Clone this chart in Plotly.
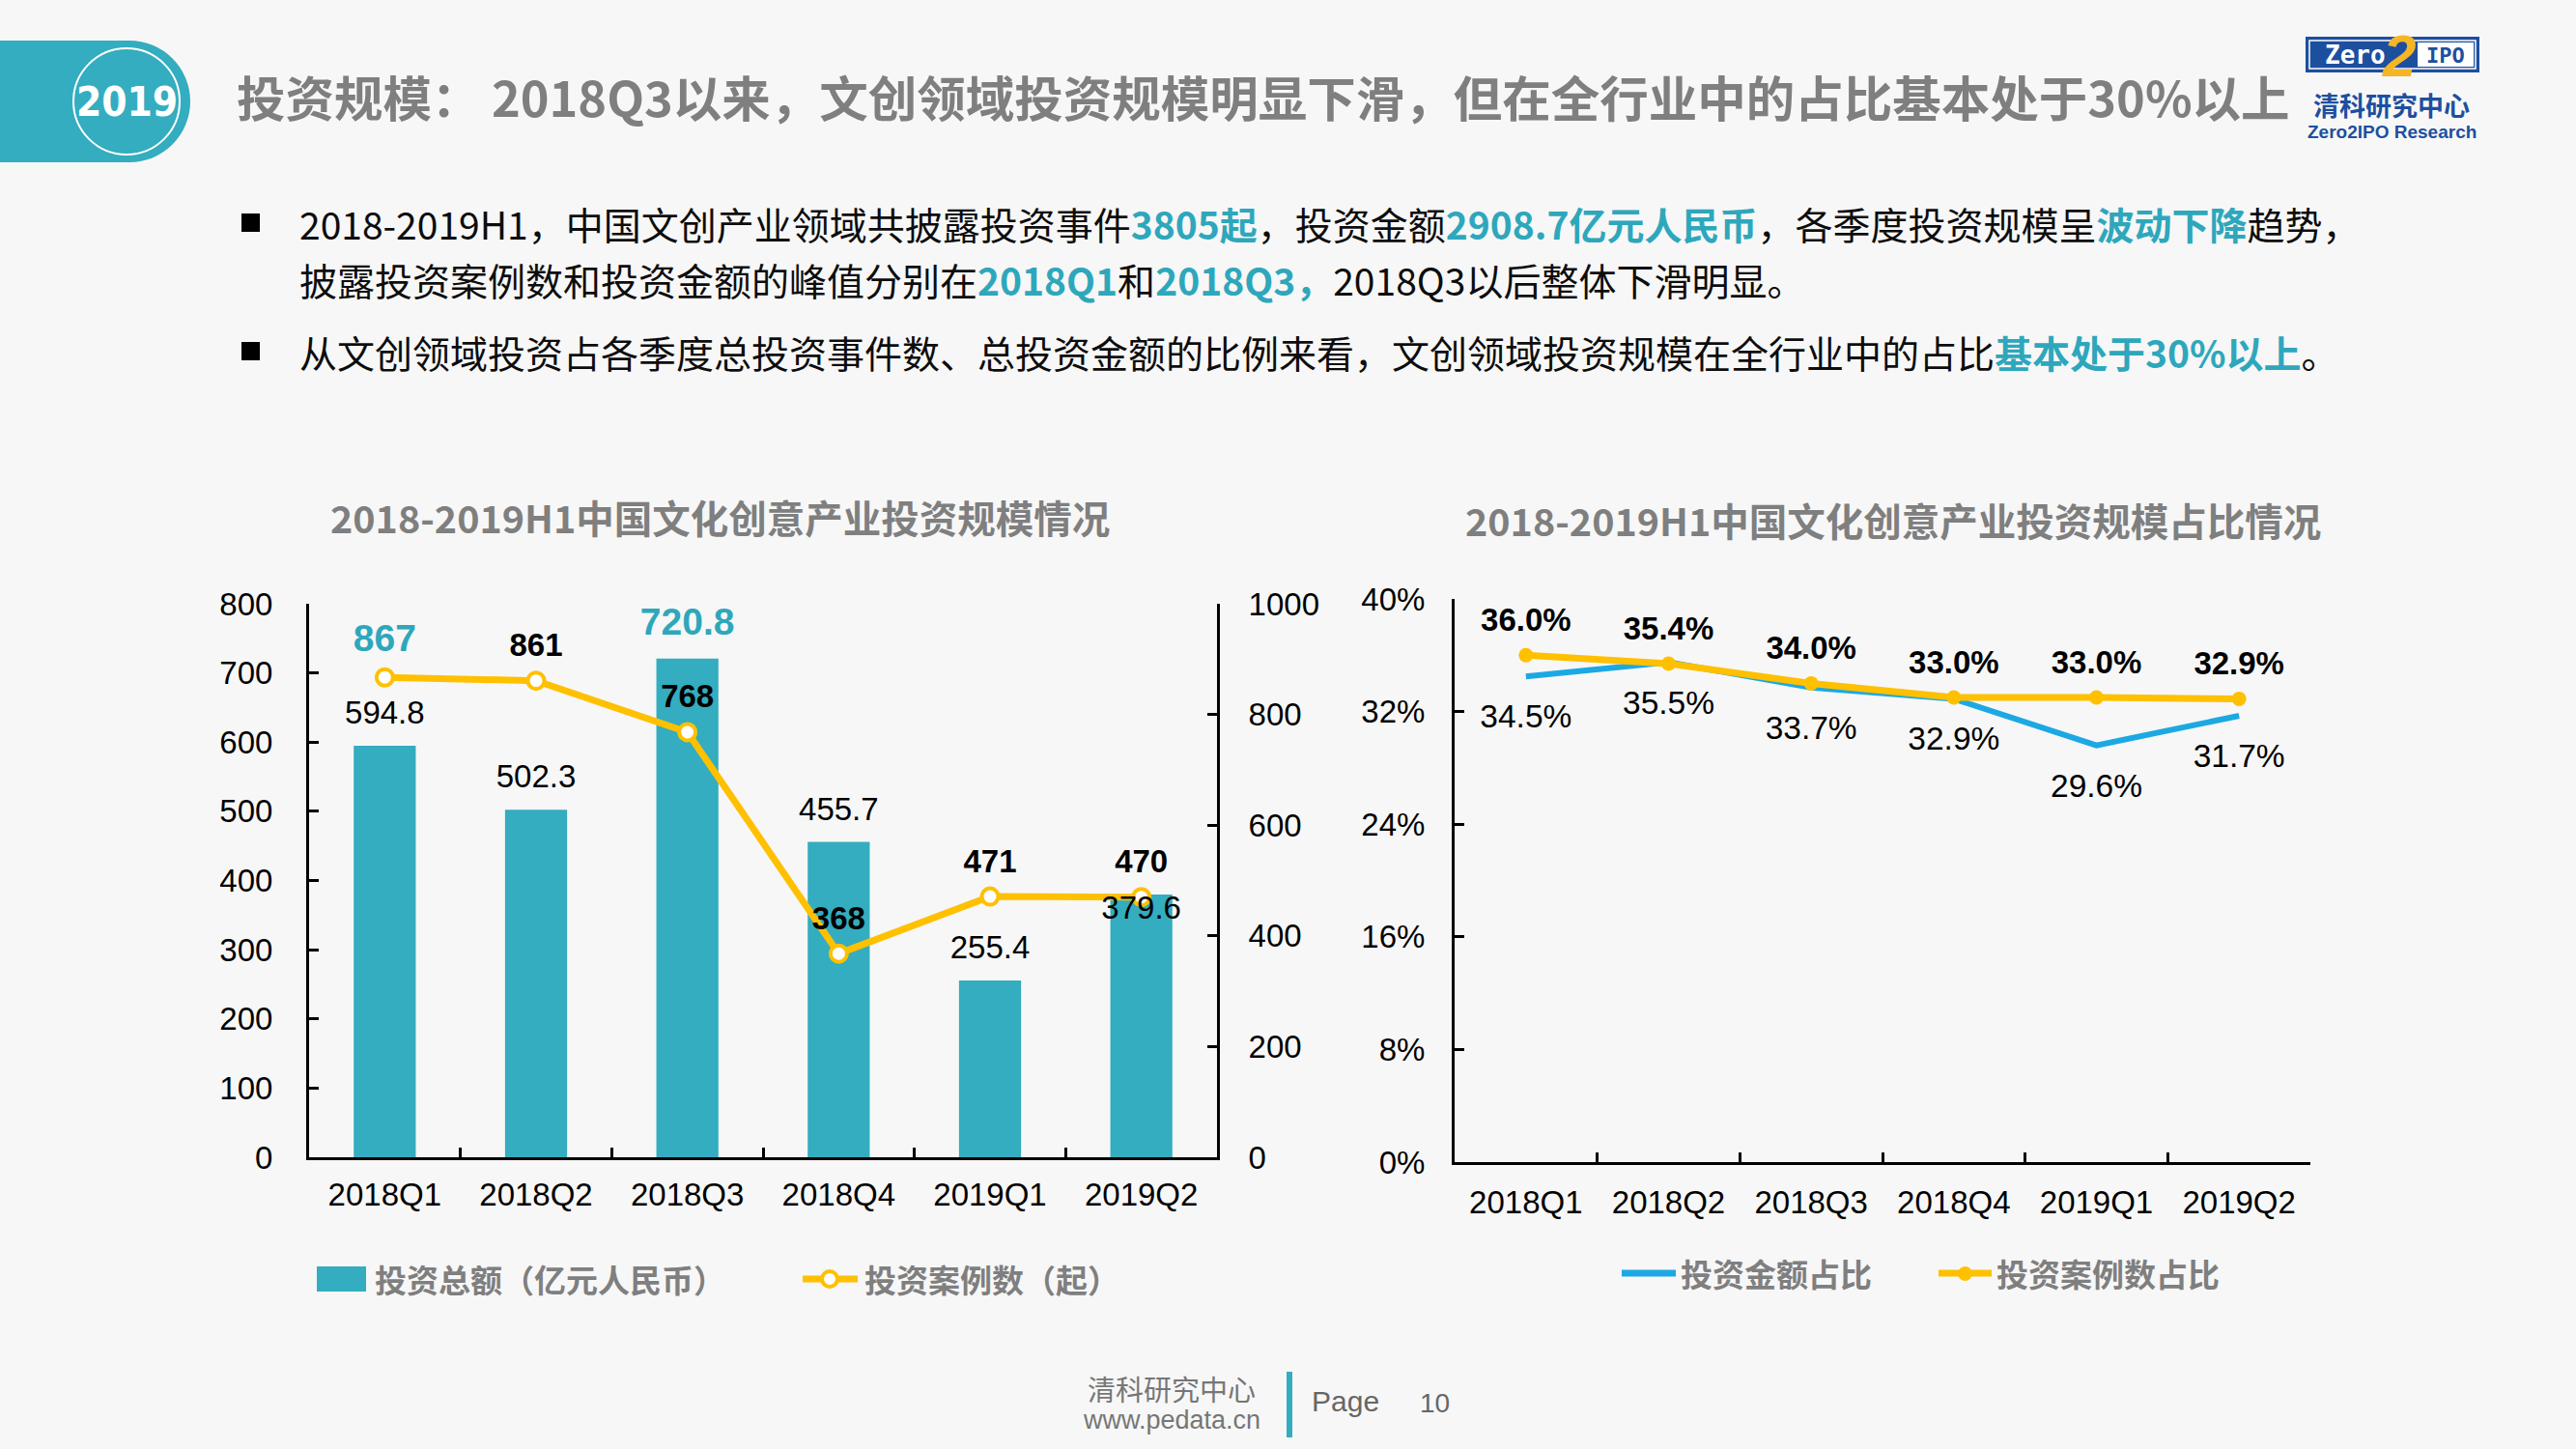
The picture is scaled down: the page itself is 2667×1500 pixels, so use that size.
import plotly.graph_objects as go

W, H = 2667, 1500

# ---------------- data ----------------
quarters = ["2018Q1", "2018Q2", "2018Q3", "2018Q4", "2019Q1", "2019Q2"]
invest_amount = [594.8, 502.3, 720.8, 455.7, 255.4, 379.6]      # 投资总额（亿元人民币）
invest_cases = [867, 861, 768, 368, 471, 470]                    # 投资案例数（起）
amount_share = [34.5, 35.5, 33.7, 32.9, 29.6, 31.7]              # 投资金额占比 (%)
case_share = [36.0, 35.4, 34.0, 33.0, 33.0, 32.9]                # 投资案例数占比 (%)
left_ticks = [0, 100, 200, 300, 400, 500, 600, 700, 800]
right_ticks = [0, 200, 400, 600, 800, 1000]
share_ticks = [0, 8, 16, 24, 32, 40]

# ---------------- style ----------------
BG = "#F7F7F7"
TEAL = "#33ADBF"
TEAL_TXT = "#2EA7BC"
YELLOW = "#FFC000"
BLUE = "#1CA9E3"
GRAY = "#7F7F7F"
NAVY = "#1D4F9F"
CJK = "Noto Sans CJK SC"
LAT = "Liberation Sans, Arial, Noto Sans CJK SC, sans-serif"

LEFT_MAX = max(left_ticks)
RIGHT_MAX = max(right_ticks)


def X(px):
    return px / W


def Y(py):
    return 1 - py / H


fig = go.Figure()

# ---- left chart: bars + line ----
fig.add_trace(go.Bar(
    x=quarters, y=invest_amount, xaxis="x", yaxis="y",
    marker=dict(color=TEAL, line=dict(width=0)), width=0.41,
    hoverinfo="skip", showlegend=False))

fig.add_trace(go.Scatter(
    x=quarters, y=invest_cases, xaxis="x", yaxis="y2", mode="lines+markers",
    line=dict(color=YELLOW, width=7),
    marker=dict(symbol="circle", size=17, color="white", line=dict(color=YELLOW, width=4)),
    cliponaxis=False, hoverinfo="skip", showlegend=False))

# bar value labels (drawn in the overlaying y2 layer so they sit above the line)
amax = invest_amount.index(max(invest_amount))
bar_text, bar_col, bar_size, bar_pos, bar_msize = [], [], [], [], []
for i, v in enumerate(invest_amount):
    if i == amax:
        bar_text.append(f"<b>{v:.1f}</b>")
        bar_col.append(TEAL_TXT)
        bar_size.append(39)
    else:
        bar_text.append(f"{v:.1f}")
        bar_col.append("#000000")
        bar_size.append(33)
    bar_pos.append("top center")
    bar_msize.append(22)
bar_pos[-1] = "bottom center"
bar_msize[-1] = 0
fig.add_trace(go.Scatter(
    x=quarters, y=[v * RIGHT_MAX / LEFT_MAX for v in invest_amount],
    xaxis="x", yaxis="y2", mode="markers+text",
    marker=dict(size=bar_msize, opacity=0), text=bar_text, textposition=bar_pos,
    textfont=dict(family=LAT, size=bar_size, color=bar_col),
    cliponaxis=False, hoverinfo="skip", showlegend=False))

cmax = invest_cases.index(max(invest_cases))
case_text = [f"<b>{v}</b>" for v in invest_cases]
case_col = [TEAL_TXT if i == cmax else "#000000" for i in range(len(invest_cases))]
case_size = [39 if i == cmax else 33 for i in range(len(invest_cases))]
fig.add_trace(go.Scatter(
    x=quarters, y=invest_cases, xaxis="x", yaxis="y2", mode="markers+text",
    marker=dict(size=26, opacity=0), text=case_text, textposition="top center",
    textfont=dict(family=LAT, size=case_size, color=case_col),
    cliponaxis=False, hoverinfo="skip", showlegend=False))

# ---- right chart: share lines ----
fig.add_trace(go.Scatter(
    x=quarters, y=amount_share, xaxis="x3", yaxis="y3", mode="lines",
    line=dict(color=BLUE, width=6), cliponaxis=False,
    hoverinfo="skip", showlegend=False))
fig.add_trace(go.Scatter(
    x=quarters, y=case_share, xaxis="x3", yaxis="y3", mode="lines+markers",
    line=dict(color=YELLOW, width=7),
    marker=dict(symbol="circle", size=15, color=YELLOW),
    cliponaxis=False, hoverinfo="skip", showlegend=False))
fig.add_trace(go.Scatter(
    x=quarters, y=amount_share, xaxis="x3", yaxis="y3", mode="markers+text",
    marker=dict(size=43, opacity=0), text=[f"{v:.1f}%" for v in amount_share],
    textposition="bottom center", textfont=dict(family=LAT, size=33.5, color="#000000"),
    cliponaxis=False, hoverinfo="skip", showlegend=False))
fig.add_trace(go.Scatter(
    x=quarters, y=case_share, xaxis="x3", yaxis="y3", mode="markers+text",
    marker=dict(size=26, opacity=0), text=[f"<b>{v:.1f}%</b>" for v in case_share],
    textposition="top center", textfont=dict(family=LAT, size=33, color="#000000"),
    cliponaxis=False, hoverinfo="skip", showlegend=False))

axis_common = dict(showline=True, linecolor="#000000", linewidth=3, ticks="inside",
                   ticklen=10, tickwidth=3, tickcolor="#000000", showgrid=False,
                   zeroline=False, tickfont=dict(family=LAT, size=33, color="#000000"),
                   fixedrange=True, automargin=False)

fig.update_layout(
    width=W, height=H, margin=dict(l=0, r=0, t=0, b=0, pad=0, autoexpand=False),
    paper_bgcolor=BG, plot_bgcolor="rgba(0,0,0,0)", showlegend=False,
    xaxis=dict(domain=[X(320), X(1260)], anchor="y", type="category",
               tickson="boundaries", range=[-0.5, 5.5], ticklabelstandoff=7,
               **axis_common),
    yaxis=dict(domain=[Y(1198), Y(625)], anchor="x", range=[0, LEFT_MAX],
               tickvals=left_ticks, ticklabelstandoff=28, **axis_common),
    yaxis2=dict(overlaying="y", side="right", anchor="x", range=[0, RIGHT_MAX],
                tickvals=right_ticks, ticklabelstandoff=23, **axis_common),
    xaxis3=dict(domain=[X(1506), X(2392)], anchor="y3", type="category",
                tickson="boundaries", range=[-0.5, 5.5], ticklabelstandoff=10,
                **axis_common),
    yaxis3=dict(domain=[Y(1203), Y(620)], anchor="x3", range=[0, max(share_ticks)],
                tickvals=share_ticks, ticktext=[f"{v}%" for v in share_ticks],
                ticklabelstandoff=21, **axis_common),
)

shapes = []
annots = []


def note(px, py, text, font, xa="center", ya="middle"):
    annots.append(dict(x=X(px), y=Y(py), xref="paper", yref="paper", showarrow=False,
                       text=text, xanchor=xa, yanchor=ya, font=font))


def rect(x0, x1, y0, y1, fill, line=None, kind="rect", layer="above"):
    shapes.append(dict(type=kind, xref="paper", yref="paper", x0=X(x0), x1=X(x1),
                       y0=Y(y1), y1=Y(y0), fillcolor=fill,
                       line=line if line else dict(width=0), layer=layer))


# ---- header badge ----
rect(0, 134, 42, 168, TEAL, layer="below")
rect(71, 197, 42, 168, TEAL, kind="circle", layer="below")
rect(76, 186, 50, 160, "rgba(0,0,0,0)", line=dict(color="white", width=2), kind="circle")
note(131, 106, "<b>2019</b>",
     dict(family="DejaVu Sans Condensed, Liberation Sans Narrow, Liberation Sans", size=42, color="white"))

# ---- title ----
note(243, 99, "<b>投资规模： 2018Q3以来，文创领域投资规模明显下滑，但在全行业中的占比基本处于30%以上</b>",
     dict(family=CJK, size=50.5, color=GRAY), xa="left")

# ---- logo ----
rect(2387, 2567, 38, 75, NAVY)
rect(2391, 2563, 42, 71, "rgba(0,0,0,0)", line=dict(color="white", width=1.5))
rect(2503, 2561, 44, 69, "white")
note(2438, 57, "<b>Zero</b>", dict(family="DejaVu Sans Mono, Liberation Mono", size=26, color="white"))
note(2532, 57, "<b>IPO</b>", dict(family="DejaVu Sans Mono, Liberation Mono", size=22, color=NAVY))
note(2483, 58, "<b><i>2</i></b>", dict(family=LAT, size=62, color="#F4B526"))
note(2476, 109, "<b>清科研究中心</b>", dict(family=CJK, size=27, color=NAVY))
note(2476, 136, "<b>Zero2IPO Research</b>", dict(family=LAT, size=19, color=NAVY))


# ---- bullets ----
def hl(s):
    return f"<span style='color:{TEAL_TXT}'><b>{s}</b></span>"


bullet_lines = [
    (231, "2018-2019H1，中国文创产业领域共披露投资事件" + hl("3805起") + "，投资金额" + hl("2908.7亿元人民币")
     + "，各季度投资规模呈" + hl("波动下降") + "趋势，"),
    (289, "披露投资案例数和投资金额的峰值分别在" + hl("2018Q1") + "和" + hl("2018Q3，") + "2018Q3以后整体下滑明显。"),
    (364, "从文创领域投资占各季度总投资事件数、总投资金额的比例来看，文创领域投资规模在全行业中的占比"
     + hl("基本处于30%以上") + "。"),
]
for yy, t in bullet_lines:
    note(308, yy, t, dict(family=CJK, size=39, color="#0D0D0D"), xa="left")
for yy in (231, 364):
    rect(250, 269, yy - 10, yy + 9, "#000000")

# ---- chart titles ----
note(745, 534, "<b>2018-2019H1中国文化创意产业投资规模情况</b>", dict(family=CJK, size=39.5, color=GRAY))
note(1960, 537, "<b>2018-2019H1中国文化创意产业投资规模占比情况</b>", dict(family=CJK, size=39.5, color=GRAY))

# ---- legends ----
leg_font = dict(family=CJK, size=33, color=GRAY)
rect(328, 379, 1311, 1337, TEAL)
note(386, 1324, "<b>投资总额（亿元人民币）</b>", leg_font, xa="left")
shapes.append(dict(type="line", xref="paper", yref="paper", x0=X(831), x1=X(888),
                   y0=Y(1324), y1=Y(1324), line=dict(color=YELLOW, width=7)))
rect(851, 867, 1316, 1332, "white", line=dict(color=YELLOW, width=4), kind="circle")
note(893, 1324, "<b>投资案例数（起）</b>", leg_font, xa="left")

shapes.append(dict(type="line", xref="paper", yref="paper", x0=X(1679), x1=X(1735),
                   y0=Y(1318), y1=Y(1318), line=dict(color=BLUE, width=7)))
note(1738, 1318, "<b>投资金额占比</b>", leg_font, xa="left")
shapes.append(dict(type="line", xref="paper", yref="paper", x0=X(2007), x1=X(2062),
                   y0=Y(1318), y1=Y(1318), line=dict(color=YELLOW, width=7)))
rect(2027, 2042, 1311, 1326, YELLOW, kind="circle")
note(2065, 1318, "<b>投资案例数占比</b>", leg_font, xa="left")

# ---- footer ----
note(1213, 1437, "清科研究中心", dict(family=CJK, size=29, color="#767676"))
note(1213, 1470, "www.pedata.cn", dict(family=LAT, size=27, color="#767676"))
rect(1332, 1338, 1420, 1488, TEAL)
note(1356, 1450, "Page", dict(family=LAT, size=30, color="#666666"), xa="left")
note(1468, 1452, "10", dict(family=LAT, size=28, color="#666666"), xa="left")

fig.update_layout(shapes=shapes, annotations=annots)
fig.write_html(
    "out.html",
    config=dict(displayModeBar=False, responsive=False),
    post_script="document.body.style.margin='0';document.body.style.padding='0';"
                "document.body.style.overflow='hidden';"
                "document.documentElement.style.overflow='hidden';")
